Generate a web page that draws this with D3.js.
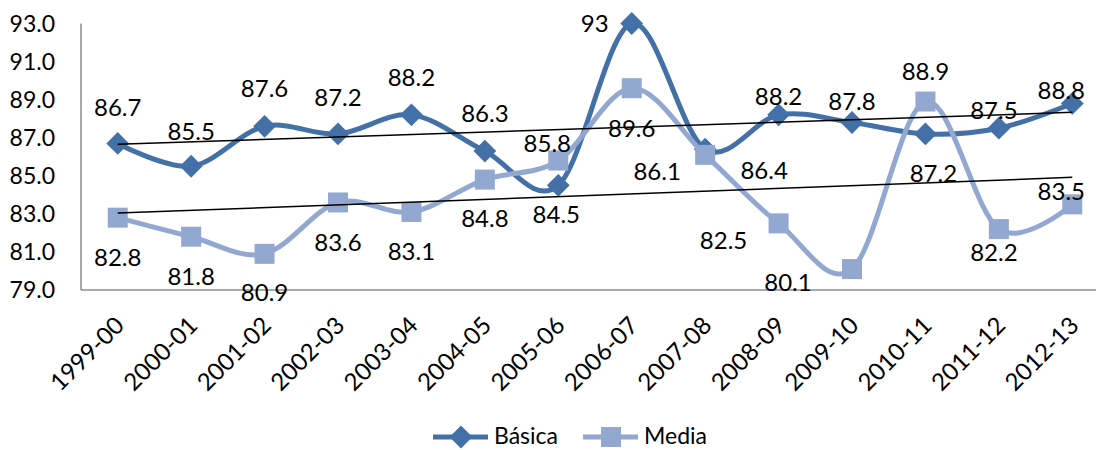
<!DOCTYPE html>
<html>
<head>
<meta charset="utf-8">
<script src="https://cdn.jsdelivr.net/npm/d3@7"></script>
<style>
  body { margin: 0; background: #fff; }
  text { font-family: Lato, "Open Sans", sans-serif; fill: #000; }
</style>
</head>
<body>
<svg id="chart" width="1096" height="450"></svg>
<script>
// data
const categories = ["1999-00", "2000-01", "2001-02", "2002-03", "2003-04", "2004-05", "2005-06",
  "2006-07", "2007-08", "2008-09", "2009-10", "2010-11", "2011-12", "2012-13"];
const basica = [86.7, 85.5, 87.6, 87.2, 88.2, 86.3, 84.5, 93, 86.4, 88.2, 87.8, 87.2, 87.5, 88.8];
const media = [82.8, 81.8, 80.9, 83.6, 83.1, 84.8, 85.8, 89.6, 86.1, 82.5, 80.1, 88.9, 82.2, 83.5];
const yTicks = [79, 81, 83, 85, 87, 89, 91, 93];

// where each data label sits relative to its marker (px)
const basicaLabelOffset = [[0, -36], [0, -35], [0, -38], [0, -36], [0, -37], [0, -37], [-2, 29],
  [-37, 0], [59, 21], [0, -18], [0, -21], [8, 40], [-5, -18], [-11, -13]];
const mediaLabelOffset = [[0, 40], [0, 40], [0, 39], [0, 40], [0, 40], [0, 39], [-11, -17],
  [0, 40], [-48, 17], [-55, 17], [-64, 14], [0, -30], [-5, 24], [-11, -13]];

const colBasica = "#4470a8";
const colMedia = "#92a8d1";
const axisCol = "#8c8c8c";

const svg = d3.select("#chart");
const plotLeft = 81, plotBottom = 290, plotTop = 23.5;

const x = d3.scalePoint().domain(categories).range([plotLeft, 1109]).padding(0.5);
const y = d3.scaleLinear().domain([79, 93]).range([plotBottom, plotTop]);

// axes
svg.append("line").attr("x1", plotLeft).attr("x2", 1096).attr("y1", plotBottom).attr("y2", plotBottom)
  .attr("stroke", axisCol).attr("stroke-width", 1.5);
svg.append("line").attr("x1", plotLeft).attr("x2", plotLeft).attr("y1", y(93)).attr("y2", plotBottom)
  .attr("stroke", axisCol).attr("stroke-width", 1.5);

svg.selectAll(".ytick").data(yTicks).enter().append("text")
  .attr("x", 55).attr("y", d => y(d)).attr("dy", "0.35em")
  .attr("text-anchor", "end").style("font-size", "23px")
  .text(d3.format(".1f"));

svg.selectAll(".xtick").data(categories).enter().append("text")
  .attr("transform", d => "translate(" + (x(d) + 8) + "," + 327 + ") rotate(-45)")
  .attr("text-anchor", "end").style("font-size", "24px")
  .text(d => d);

const line = d3.line()
  .x((d, i) => x(categories[i]))
  .y(d => y(d))
  .curve(d3.curveCardinal.tension(0));

svg.append("path").datum(basica).attr("d", line)
  .attr("fill", "none").attr("stroke", colBasica).attr("stroke-width", 5);
svg.append("path").datum(media).attr("d", line)
  .attr("fill", "none").attr("stroke", colMedia).attr("stroke-width", 5);

// markers
const diamond = d3.symbol().type(d3.symbolSquare).size(260);
svg.selectAll(".mb").data(basica).enter().append("path")
  .attr("d", diamond)
  .attr("transform", (d, i) => "translate(" + x(categories[i]) + "," + y(d) + ") rotate(45)")
  .attr("fill", colBasica);
svg.selectAll(".mm").data(media).enter().append("rect")
  .attr("x", (d, i) => x(categories[i]) - 10).attr("y", d => y(d) - 10)
  .attr("width", 20).attr("height", 20).attr("fill", colMedia);

// linear trend lines
function trend(values) {
  const n = values.length;
  const xs = d3.range(n);
  const mx = d3.mean(xs), my = d3.mean(values);
  const b = d3.sum(xs, i => (i - mx) * (values[i] - my)) / d3.sum(xs, i => (i - mx) * (i - mx));
  const a = my - b * mx;
  return [a, a + b * (n - 1)];
}
[basica, media].forEach(vals => {
  const t = trend(vals);
  svg.append("line")
    .attr("x1", x(categories[0])).attr("y1", y(t[0]))
    .attr("x2", x(categories[categories.length - 1])).attr("y2", y(t[1]))
    .attr("stroke", "#000").attr("stroke-width", 1.5);
});

// data labels
function labels(vals, off) {
  svg.selectAll(null).data(vals).enter().append("text")
    .attr("x", (d, i) => x(categories[i]) + off[i][0])
    .attr("y", (d, i) => y(d) + off[i][1])
    .attr("dy", "0.35em").attr("text-anchor", "middle").style("font-size", "24px")
    .text(d => d);
}
labels(basica, basicaLabelOffset);
labels(media, mediaLabelOffset);

// legend
const legend = svg.append("g").attr("transform", "translate(433,437)");
const items = [["Básica", colBasica, "diamond"], ["Media", colMedia, "square"]];
items.forEach((it, k) => {
  const g = legend.append("g").attr("transform", "translate(" + (k * 150) + ",0)");
  g.append("line").attr("x1", 0).attr("x2", 55).attr("stroke", it[1]).attr("stroke-width", 5);
  if (it[2] === "diamond") {
    g.append("path").attr("d", diamond).attr("transform", "translate(28,0) rotate(45)").attr("fill", it[1]);
  } else {
    g.append("rect").attr("x", 18).attr("y", -10).attr("width", 20).attr("height", 20).attr("fill", it[1]);
  }
  g.append("text").attr("x", 61).attr("dy", "0.32em").style("font-size", "23px").text(it[0]);
});
</script>
</body>
</html>
